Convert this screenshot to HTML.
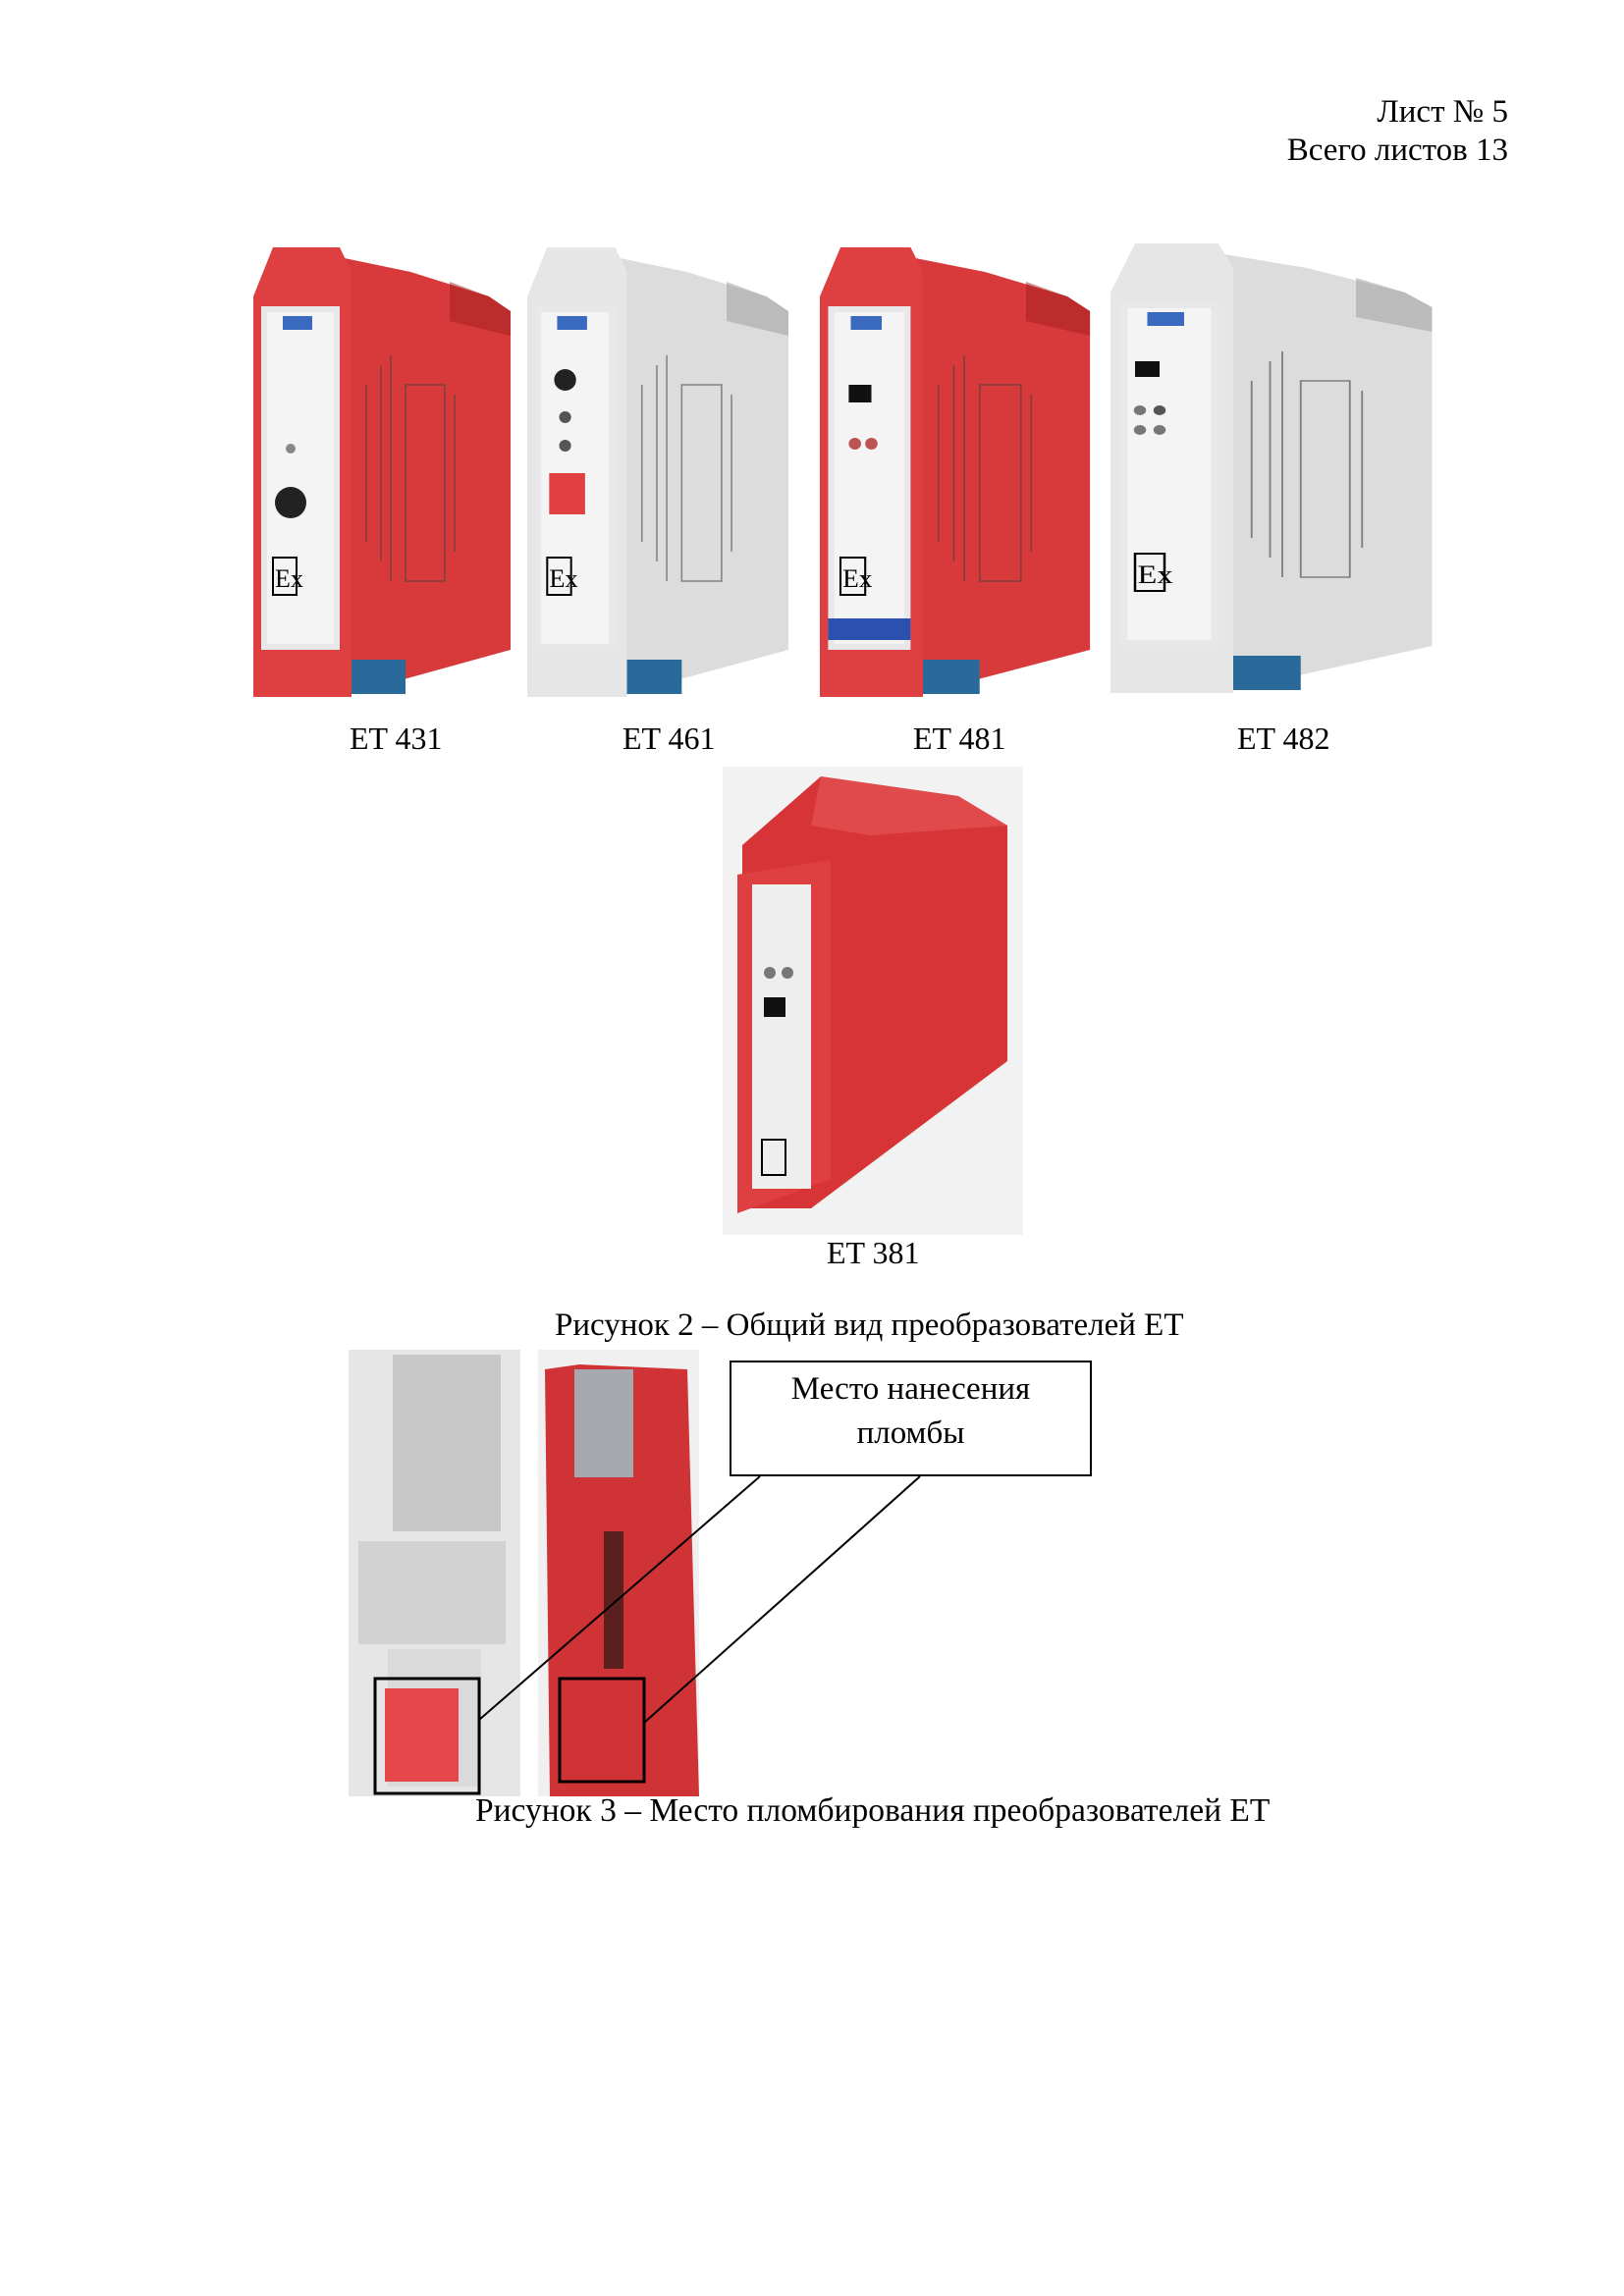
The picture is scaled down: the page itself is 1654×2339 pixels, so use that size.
<!DOCTYPE html>
<html><head><meta charset="utf-8"><style>
body{margin:0;background:#fff}
.t{position:absolute;font-family:"Liberation Serif",serif;font-size:33px;color:#000;white-space:nowrap}
</style></head><body>
<div style="position:relative;width:1654px;height:2339px;overflow:hidden">
<div class="t" style="right:118px;top:95px;text-align:right;line-height:39px">Лист № 5<br>Всего листов 13</div>
<svg width="1654" height="2339" style="position:absolute;left:0;top:0" font-family="Liberation Sans, sans-serif">
<defs>
<g id="dev">
 <rect x="0" y="0" width="264" height="498" fill="#fff"/>
 <polygon points="88,30 160,45 240,70 262,85 262,430 88,478" fill="var(--side)"/>
 <polygon points="200,55 240,70 262,85 262,110 200,95" fill="var(--dark)" opacity="0.5"/>
 <rect x="95" y="440" width="60" height="35" fill="#2a6a9a"/>
 <polygon points="0,70 20,20 88,20 100,45 100,478 0,478" fill="var(--front)"/>
 <rect x="8" y="80" width="80" height="350" fill="#e8e8ea"/>
 <rect x="14" y="86" width="68" height="338" fill="#f4f4f4"/>
 <g fill="none" stroke="#444" stroke-width="1.5" opacity="0.6">
  <rect x="155" y="160" width="40" height="200"/>
  <line x1="130" y1="140" x2="130" y2="340"/><line x1="140" y1="130" x2="140" y2="360"/>
  <line x1="205" y1="170" x2="205" y2="330"/><line x1="115" y1="160" x2="115" y2="320"/>
 </g>
 <rect x="20" y="336" width="24" height="38" fill="none" stroke="#000" stroke-width="2"/>
 <text x="22" y="366" font-size="26" font-family="Liberation Serif">Ex</text>
 <rect x="30" y="90" width="30" height="14" fill="#3a6ac0"/>
</g>
</defs>
<g transform="translate(258,232)" style="--side:#d8393b;--front:#de3f40;--dark:#a02020"><use href="#dev"/>
 <circle cx="38" cy="225" r="5" fill="#888"/><circle cx="38" cy="280" r="16" fill="#222"/></g>
<g transform="translate(537,232) scale(1.015,1)" style="--side:#dcdcdc;--front:#e6e6e6;--dark:#999"><use href="#dev"/>
 <circle cx="38" cy="155" r="11" fill="#222"/><circle cx="38" cy="193" r="6" fill="#555"/><circle cx="38" cy="222" r="6" fill="#555"/><rect x="22" y="250" width="36" height="42" fill="#e04040"/></g>
<g transform="translate(835,232) scale(1.05,1)" style="--side:#d8393b;--front:#de3f40;--dark:#a02020"><use href="#dev"/>
 <rect x="28" y="160" width="22" height="18" fill="#111"/><circle cx="34" cy="220" r="6" fill="#b55"/><circle cx="50" cy="220" r="6" fill="#b55"/><rect x="8" y="398" width="80" height="22" fill="#2a50b0"/></g>
<g transform="translate(1131,228) scale(1.25,1)" style="--side:#dcdcdc;--front:#e6e6e6;--dark:#999"><use href="#dev"/>
 <rect x="20" y="140" width="20" height="16" fill="#111"/><circle cx="24" cy="190" r="5" fill="#777"/><circle cx="40" cy="190" r="5" fill="#555"/><circle cx="24" cy="210" r="5" fill="#777"/><circle cx="40" cy="210" r="5" fill="#777"/></g>
<g transform="translate(736,781)">
 <rect width="306" height="477" fill="#f2f2f2"/>
 <polygon points="20,80 100,10 240,30 290,60 290,300 90,450 20,450" fill="#d63436"/>
 <polygon points="100,10 240,30 290,60 150,70 90,60" fill="#e04a4a"/>
 <polygon points="15,110 110,95 110,420 15,455" fill="#de3f40"/>
 <rect x="30" y="120" width="60" height="310" fill="#eeeeee"/>
 <circle cx="48" cy="210" r="6" fill="#777"/><circle cx="66" cy="210" r="6" fill="#777"/><rect x="42" y="235" width="22" height="20" fill="#111"/>
 <rect x="40" y="380" width="24" height="36" fill="none" stroke="#000" stroke-width="2"/>
</g>
<rect x="355" y="1375" width="175" height="455" fill="#e6e6e6"/>
<rect x="400" y="1380" width="110" height="180" fill="#c8c8c8"/>
<rect x="365" y="1570" width="150" height="105" fill="#d2d2d2"/>
<rect x="395" y="1680" width="95" height="140" fill="#dadada"/>
<rect x="392" y="1720" width="75" height="95" fill="#e6474a"/>
<rect x="548" y="1375" width="164" height="455" fill="#f0f0f0"/>
<polygon points="555,1395 590,1390 700,1395 712,1830 560,1830" fill="#cf3335"/>
<rect x="585" y="1395" width="60" height="110" fill="#a8a8b0"/>
<rect x="615" y="1560" width="20" height="140" fill="#5a2020"/>
<rect x="382" y="1710" width="106" height="117" fill="none" stroke="#000" stroke-width="3"/>
<rect x="570" y="1710" width="86" height="105" fill="none" stroke="#000" stroke-width="3"/>
<line x1="774" y1="1504" x2="488" y2="1752" stroke="#000" stroke-width="2"/>
<line x1="937" y1="1504" x2="656" y2="1755" stroke="#000" stroke-width="2"/>
<rect x="744" y="1387" width="367" height="116" fill="#fff" stroke="#000" stroke-width="2"/>
</svg>
<div class="t" style="left:744px;width:367px;top:1393px;text-align:center;line-height:45px">Место нанесения<br>пломбы</div>
<div class="t" style="left:356px;top:734px;font-size:32px">ET 431</div>
<div class="t" style="left:634px;top:734px;font-size:32px">ET 461</div>
<div class="t" style="left:930px;top:734px;font-size:32px">ET 481</div>
<div class="t" style="left:1260px;top:734px;font-size:32px">ET 482</div>
<div class="t" style="left:842px;top:1258px;font-size:32px">ET 381</div>
<div class="t" style="left:565px;top:1332px">Рисунок 2 – Общий вид преобразователей ЕТ</div>
<div class="t" style="left:484px;top:1826px;font-size:33.5px">Рисунок 3 – Место пломбирования преобразователей ЕТ</div>
</div>
</body></html>
